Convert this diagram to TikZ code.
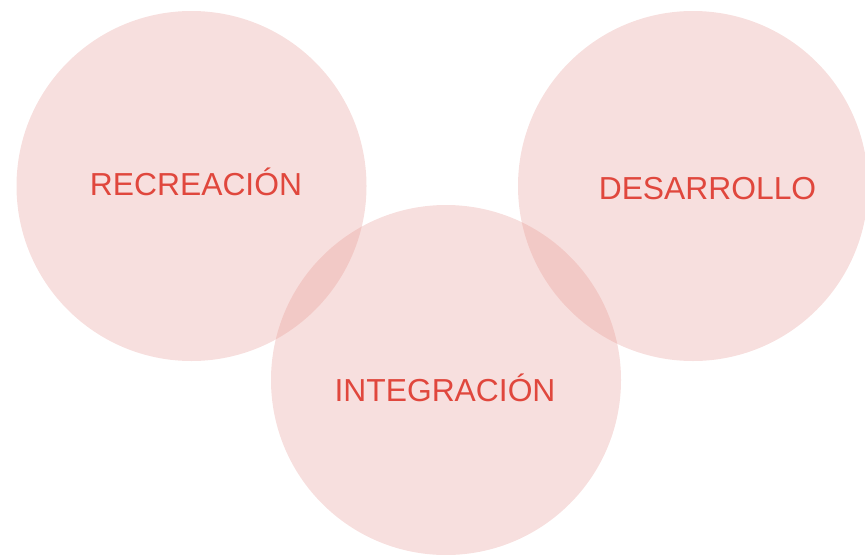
\documentclass[tikz,border=0pt]{standalone}
\usepackage{fontspec}
\setmainfont{Liberation Sans}
\definecolor{bubblered}{RGB}{230,150,145}
\definecolor{labelred}{RGB}{224,71,61}
\tikzset{bubble/.style={fill=bubblered, fill opacity=0.3},
	tag/.style={text=labelred, font=\fontsize{18.1pt}{21pt}\selectfont,
		anchor=base, inner sep=0pt}}

\begin{document}
\begin{tikzpicture}
    \useasboundingbox (0,0) rectangle (17.3,-11.08);
    \coordinate (recreacion) at (3.83,-3.72);
    \coordinate (desarrollo) at (13.86,-3.72);
    \coordinate (integracion) at (8.92,-7.6);
    \fill[bubble] (recreacion) circle (3.5cm);
    \fill[bubble] (desarrollo) circle (3.5cm);
    \fill[bubble] (integracion) circle (3.5cm);
    \node[tag] (rec) at (3.92,-3.90) {RECREACIÓN};
    \node[tag] (des) at (14.15,-3.99) {DESARROLLO};
    \node[tag] (int) at (8.90,-8.03) {INTEGRACIÓN};
  \end{tikzpicture}
\end{document}
